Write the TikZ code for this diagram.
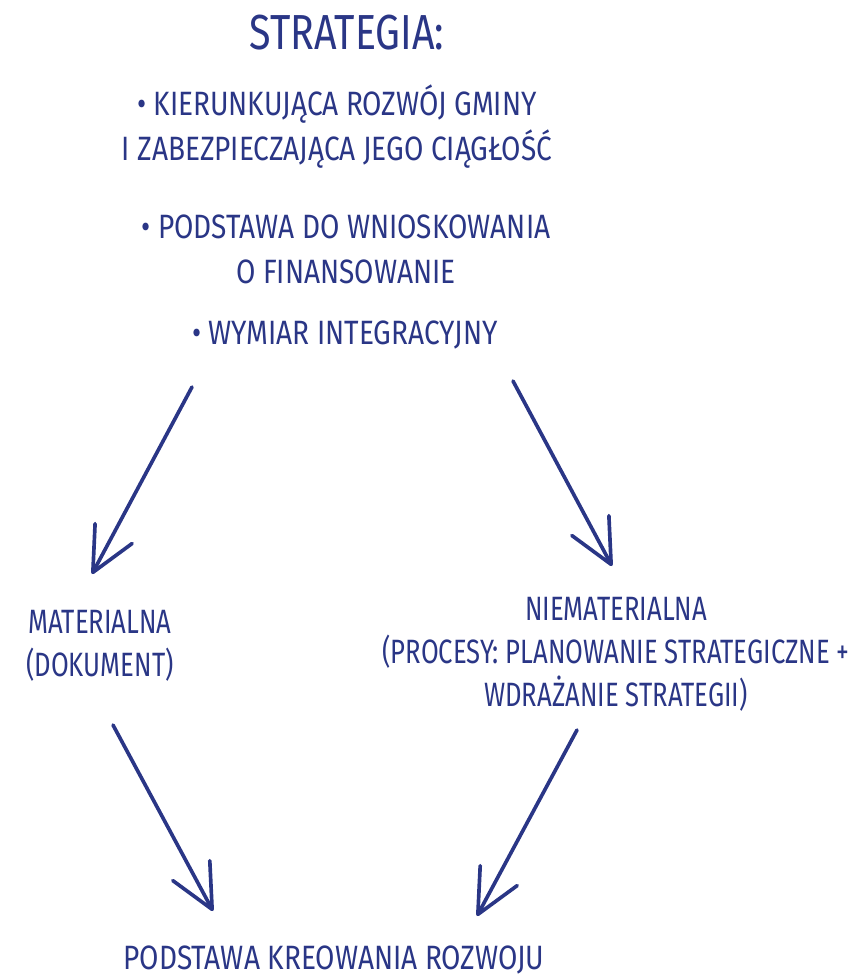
\documentclass[tikz,border=0pt]{standalone}
\usepackage{fontspec}
\setmainfont{Fira Sans}[FakeStretch=0.83]
\newfontfamily\headfont{Fira Sans}[FakeStretch=0.8]
\newfontfamily\midfont{Fira Sans}[FakeStretch=0.76]
\usepackage{tikz}
\usetikzlibrary{arrows.meta,positioning}
\definecolor{ink}{RGB}{42,54,134}
\tikzset{txt/.style={text=ink,align=center,inner sep=0pt,font=\fontsize{24}{32}\selectfont}}
\tikzset{mid/.style={txt,font=\midfont\fontsize{24}{30.5}\selectfont}}
\tikzset{head/.style={txt,font=\headfont\fontsize{35}{40}\selectfont}}
\tikzset{arr/.style={draw=ink,line width=2.6pt,line cap=round,-{Straight Barb[length=1.1cm,width=1.05cm,round]}}}

\begin{document}
\begin{tikzpicture}[x=0.025cm, y=-0.025cm]
        \useasboundingbox (0,0) rectangle (861,976);
        \node[head] (title) at (347,33) {STRATEGIA:};
        \node[txt] (b1) at (337,127) {• KIERUNKUJĄCA ROZWÓJ GMINY\\I ZABEZPIECZAJĄCA JEGO CIĄGŁOŚĆ};
        \node[txt] (b2) at (346,249) {• PODSTAWA DO WNIOSKOWANIA\\O FINANSOWANIE};
        \node[txt] (b3) at (345,335) {• WYMIAR INTEGRACYJNY};
        \node[mid] (mat) at (100,646) {MATERIALNA\\(DOKUMENT)};
        \node[mid] (niemat) at (616,654) {NIEMATERIALNA\\(PROCESY: PLANOWANIE STRATEGICZNE +\\WDRAŻANIE STRATEGII)};
        \node[txt,anchor=base] (base) at (334,969) {PODSTAWA KREOWANIA ROZWOJU};
        % arrow ends
        \coordinate (a1s) at (192,387);
        \coordinate (a1e) at (92,574);
        \coordinate (a2s) at (513,381);
        \coordinate (a2e) at (612,566);
        \coordinate (a3s) at (113,725);
        \coordinate (a3e) at (213,911);
        \coordinate (a4s) at (577,730);
        \coordinate (a4e) at (477,916);
        \draw[arr] (a1s) -- (a1e);
        \draw[arr] (a2s) -- (a2e);
        \draw[arr] (a3s) -- (a3e);
        \draw[arr] (a4s) -- (a4e);
\end{tikzpicture}
\end{document}
